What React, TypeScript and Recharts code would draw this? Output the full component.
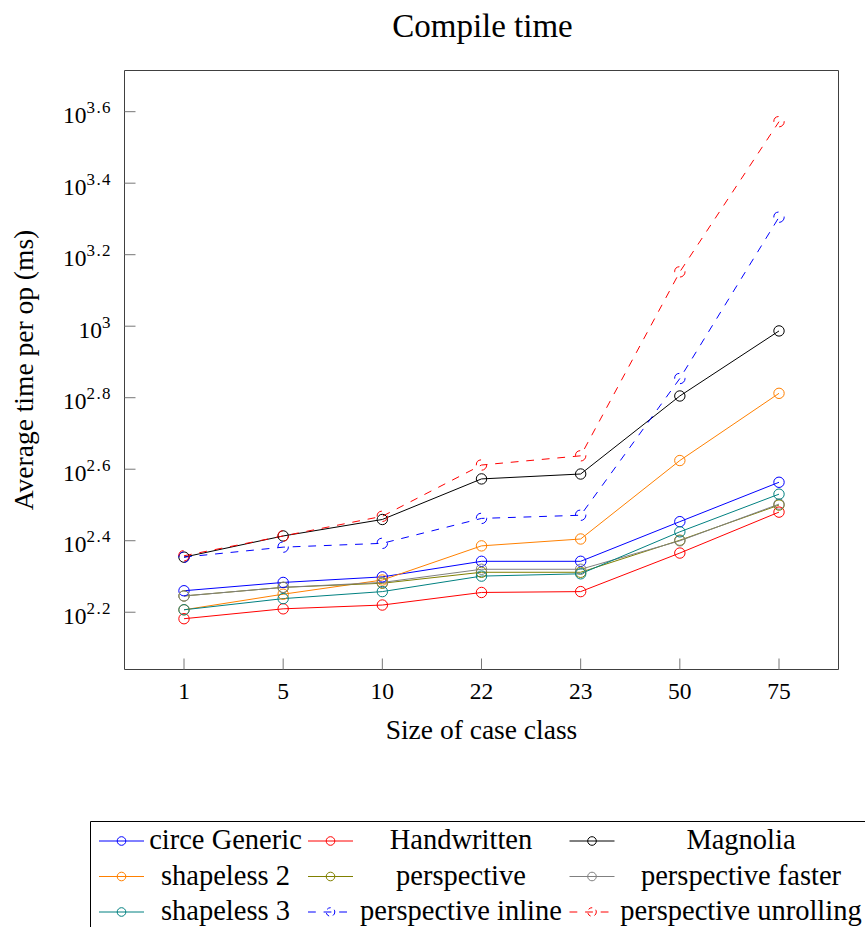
import React from 'react';
import { LineChart, Line, XAxis, YAxis, Label, Legend } from 'recharts';

// Categories (size of case class)
const sizes = ['1', '5', '10', '22', '23', '50', '75'];

// Average time per op (ms)
const circeGeneric = [182, 192, 199, 220, 220, 284, 366];
const handwritten = [152, 162, 166, 180, 181, 232, 302];
const magnolia = [226, 259, 288, 374, 386, 638, 970];
const shapeless2 = [161, 178, 195, 243, 254, 421, 649];
const perspective = [176, 186, 191, 205, 205, 252, 316];
const perspectiveFaster = [176, 186, 192, 209, 209, 251, 318];
const shapeless3 = [161, 173, 181, 200, 203, 266, 339];
const perspectiveInline = [226, 241, 247, 290, 296, 714, 2018];
const perspectiveUnrolling = [228, 259, 294, 409, 434, 1419, 3733];

// Y tick exponents (10^x)
const yTickExponents = [2.2, 2.4, 2.6, 2.8, 3.0, 3.2, 3.4, 3.6];
const yDomain = [109.6, 5190];

const FONT = '"Liberation Serif", "Times New Roman", serif';

const series = [
  { key: 'circe', name: 'circe Generic', color: '#0000ff', dashed: false, values: circeGeneric },
  { key: 'hand', name: 'Handwritten', color: '#ff0000', dashed: false, values: handwritten },
  { key: 'magnolia', name: 'Magnolia', color: '#000000', dashed: false, values: magnolia },
  { key: 'sh2', name: 'shapeless 2', color: '#ff8000', dashed: false, values: shapeless2 },
  { key: 'persp', name: 'perspective', color: '#808000', dashed: false, values: perspective },
  { key: 'faster', name: 'perspective faster', color: '#808080', dashed: false, values: perspectiveFaster },
  { key: 'sh3', name: 'shapeless 3', color: '#008080', dashed: false, values: shapeless3 },
  { key: 'inline', name: 'perspective inline', color: '#0000ff', dashed: true, values: perspectiveInline },
  { key: 'unroll', name: 'perspective unrolling', color: '#ff0000', dashed: true, values: perspectiveUnrolling },
];

const data = sizes.map((s, i) => {
  const row: Record<string, any> = { size: s };
  series.forEach((se) => {
    row[se.key] = se.values[i];
  });
  return row;
});

const yTicks = yTickExponents.map((e) => Math.pow(10, e));
const DASH = '7.8 7.8';

const YTick = (props: any) => {
  const { x, y, payload } = props;
  const e = Math.round(Math.log10(payload.value) * 10) / 10;
  return (
    <text x={x} y={y + 11.5} textAnchor="end" fontFamily={FONT} fontSize={23.5} fill="#000">
      <tspan>10</tspan>
      <tspan dy={-10} fontSize={17} letterSpacing={1.4}>{String(e)}</tspan>
    </text>
  );
};

const XTick = (props: any) => {
  const { x, y, payload } = props;
  return (
    <text x={x} y={y} textAnchor="middle" fontFamily={FONT} fontSize={23.5} fill="#000">
      {payload.value}
    </text>
  );
};

const XLabel = (props: any) => {
  const vb = props.viewBox;
  return (
    <text x={vb.x + vb.width / 2} y={vb.y + 69} textAnchor="middle" fontFamily={FONT} fontSize={27.5} fill="#000">
      Size of case class
    </text>
  );
};

const YLabel = (props: any) => {
  const vb = props.viewBox;
  const cx = 33;
  const cy = vb.y + vb.height / 2;
  return (
    <text x={cx} y={cy} transform={`rotate(-90, ${cx}, ${cy})`} textAnchor="middle" fontFamily={FONT} fontSize={27.5} fill="#000">
      Average time per op (ms)
    </text>
  );
};

const Title = (props: any) => {
  const vb = props.viewBox;
  return (
    <text x={vb.x + vb.width / 2 + 1} y={vb.y - 33} textAnchor="middle" fontFamily={FONT} fontSize={33} fill="#000">
      Compile time
    </text>
  );
};

const colImage = [31.5, 240.5, 502];
const colText = [135.5, 371, 651];
const rowCenter = [20, 55.5, 91];

const LegendContent = () => (
  <svg width={790} height={110} style={{ display: 'block', overflow: 'visible' }}>
    <line x1={0.5} y1={0.5} x2={790} y2={0.5} stroke="#000" strokeWidth={1} />
    <line x1={0.5} y1={0.5} x2={0.5} y2={110} stroke="#000" strokeWidth={1} />
    {series.map((se, i) => {
      const c = i % 3;
      const r = Math.floor(i / 3);
      const cx = colImage[c];
      const cy = rowCenter[r];
      return (
        <g key={se.key}>
          <line
            x1={cx - 22.5}
            y1={cy}
            x2={cx + 22.5}
            y2={cy}
            stroke={se.color}
            strokeWidth={1}
            strokeDasharray={se.dashed ? DASH : undefined}
          />
          <circle cx={cx} cy={cy} r={4.3} fill="none" stroke={se.color} strokeWidth={1} strokeDasharray={se.dashed ? '4 4' : undefined} />
          <text x={colText[c]} y={cy + 8} textAnchor="middle" fontFamily={FONT} fontSize={28.5} fill="#000">
            {se.name}
          </text>
        </g>
      );
    })}
  </svg>
);

export default function App() {
  return (
    <div style={{ position: 'absolute', left: 0, top: 0, width: 865, height: 927, overflow: 'hidden', background: '#fff' }}>
      <LineChart width={865} height={927} data={data} margin={{ top: 69.5, right: 25.5, bottom: 0, left: 0 }}>
        <XAxis
          dataKey="size"
          type="category"
          height={257.5}
          padding={{ left: 59.5, right: 59.5 }}
          axisLine={{ stroke: '#404040', strokeWidth: 1 }}
          tickLine={{ stroke: '#777', strokeWidth: 1 }}
          tickSize={-11}
          tickMargin={40.5}
          tick={<XTick />}
          interval={0}
        >
          <Label content={<XLabel />} />
        </XAxis>
        <XAxis
          xAxisId="top"
          orientation="top"
          dataKey="size"
          type="category"
          height={1}
          padding={{ left: 59.5, right: 59.5 }}
          axisLine={{ stroke: '#404040', strokeWidth: 1 }}
          tickLine={{ stroke: '#777', strokeWidth: 1 }}
          tickSize={-11}
          tick={false}
          interval={0}
        >
          <Label content={<Title />} />
        </XAxis>
        <YAxis
          type="number"
          scale="log"
          domain={yDomain}
          allowDataOverflow
          ticks={yTicks}
          width={124.5}
          axisLine={{ stroke: '#404040', strokeWidth: 1 }}
          tickLine={{ stroke: '#777', strokeWidth: 1 }}
          tickSize={-11}
          tickMargin={23.5}
          tick={<YTick />}
          interval={0}
        >
          <Label content={<YLabel />} />
        </YAxis>
        <YAxis
          yAxisId="right"
          orientation="right"
          type="number"
          scale="log"
          domain={yDomain}
          allowDataOverflow
          ticks={yTicks}
          width={1}
          axisLine={{ stroke: '#404040', strokeWidth: 1 }}
          tickLine={{ stroke: '#777', strokeWidth: 1 }}
          tickSize={-11}
          tick={false}
          interval={0}
        />
        {series.map((se) => (
          <Line
            key={se.key}
            type="linear"
            dataKey={se.key}
            name={se.name}
            stroke={se.color}
            strokeWidth={1}
            strokeDasharray={se.dashed ? DASH : undefined}
            dot={{ r: 5.2, fill: 'none', stroke: se.color, strokeWidth: 1 }}
            activeDot={false}
            isAnimationActive={false}
          />
        ))}
        <Legend
          layout="horizontal"
          verticalAlign="middle"
          align="center"
          content={<LegendContent />}
          wrapperStyle={{ left: 90, top: 821, width: 790, height: 110 }}
        />
      </LineChart>
    </div>
  );
}
